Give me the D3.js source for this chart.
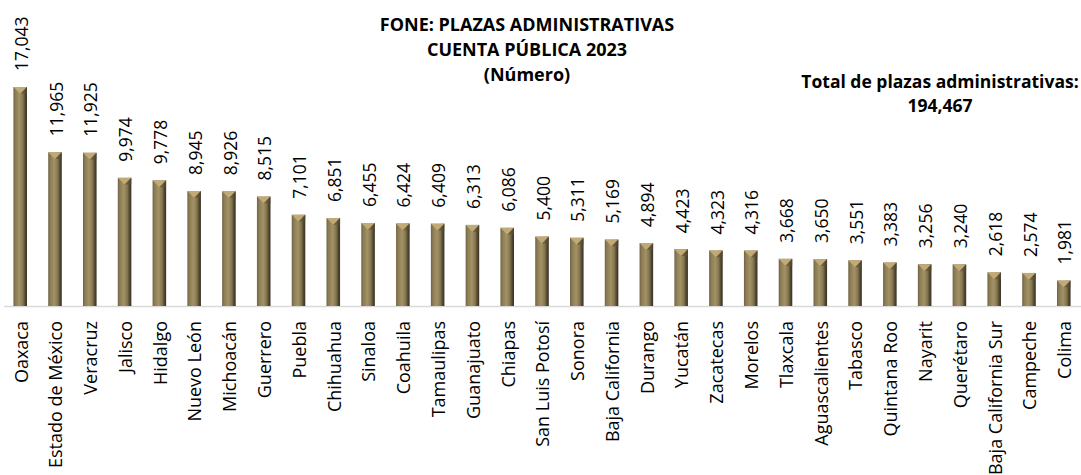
<!DOCTYPE html>
<html>
<head>
<meta charset="utf-8">
<script src="https://cdn.jsdelivr.net/npm/d3@7"></script>
<style>
  body { margin: 0; background: #fff; }
  svg text { font-family: "Open Sans", sans-serif; fill: #000; }
</style>
</head>
<body>
<div id="chart"></div>
<script>
// data
let estados = ['Oaxaca','Estado de México','Veracruz','Jalisco','Hidalgo','Nuevo León','Michoacán',
  'Guerrero','Puebla','Chihuahua','Sinaloa','Coahuila','Tamaulipas','Guanajuato','Chiapas',
  'San Luis Potosí','Sonora','Baja California','Durango','Yucatán','Zacatecas','Morelos','Tlaxcala',
  'Aguascalientes','Tabasco','Quintana Roo','Nayarit','Querétaro','Baja California Sur','Campeche','Colima'];
let plazas = [17043,11965,11925,9974,9778,8945,8926,8515,7101,6851,6455,6424,6409,6313,6086,
  5400,5311,5169,4894,4423,4323,4316,3668,3650,3551,3383,3256,3240,2618,2574,1981];
let titulo = ['FONE: PLAZAS ADMINISTRATIVAS','CUENTA PÚBLICA 2023','(Número)'];
let totalTxt = ['Total de plazas administrativas:','194,467'];

let width = 1081,
    height = 475,
    base = 306,
    fmt = d3.format(',');

let svg = d3.select('#chart').append('svg')
    .attr('width', width)
    .attr('height', height);

let data = estados.map((e, i) => ({name: e, val: plazas[i]}));

let x = d3.scaleBand()
    .domain(estados)
    .range([3, 1081])
    .paddingInner(0.61)
    .paddingOuter(0.3);

let y = d3.scaleLinear()
    .domain([0, 17043])
    .range([base, 87]);

// bar gradient
let defs = svg.append('defs');
let grad = defs.append('linearGradient').attr('id', 'barGrad')
    .attr('x1', '0%').attr('x2', '100%').attr('y1', '0%').attr('y2', '0%');
[['0%','#6f6242'],['15%','#8c7c54'],['45%','#a39266'],['70%','#85764f'],['88%','#4d4430'],['100%','#3a3324']]
  .forEach(s => grad.append('stop').attr('offset', s[0]).attr('stop-color', s[1]));

// axis line
svg.append('line')
    .attr('x1', 4).attr('x2', width)
    .attr('y1', base + 0.5).attr('y2', base + 0.5)
    .style('stroke', '#d9d9d9')
    .style('stroke-width', '1.5px');

let bw = x.bandwidth();
let grp = svg.selectAll('g.bar')
    .data(data)
    .enter().append('g')
    .attr('class', 'bar');

grp.append('rect')
    .attr('x', d => x(d.name))
    .attr('y', d => y(d.val))
    .attr('width', bw)
    .attr('height', d => base - y(d.val))
    .attr('fill', 'url(#barGrad)');

// bevel on top
grp.append('path')
    .attr('d', d => {
      let x0 = x(d.name), t = y(d.val);
      return 'M' + x0 + ',' + t + 'L' + (x0 + bw) + ',' + t + 'L' + (x0 + bw / 2) + ',' + (t + bw / 2) + 'Z';
    })
    .attr('fill', '#c2aa77');
grp.append('path')
    .attr('d', d => {
      let x0 = x(d.name), t = y(d.val);
      return 'M' + (x0 + bw) + ',' + t + 'L' + (x0 + bw) + ',' + (t + bw / 2) + 'L' + (x0 + bw / 2) + ',' + (t + bw / 2) + 'Z';
    })
    .attr('fill', '#5a4f36').attr('opacity', 0.6);

// value labels
grp.append('text')
    .attr('transform', d => 'translate(' + (x(d.name) + bw / 2 + 1.5) + ',' + (y(d.val) - 16) + ') rotate(-90)')
    .attr('dy', '0.35em')
    .style('font-size', '17.5px')
    .text(d => fmt(d.val));

// category labels
grp.append('text')
    .attr('transform', d => 'translate(' + (x(d.name) + bw / 2 + 1) + ',' + (base + 15) + ') rotate(-90)')
    .attr('dy', '0.35em')
    .attr('text-anchor', 'end')
    .style('font-size', '18px')
    .text(d => d.name);

// title
svg.selectAll('text.title')
    .data(titulo)
    .enter().append('text')
    .attr('class', 'title')
    .attr('x', 527)
    .attr('y', (d, i) => 31 + i * 25)
    .attr('text-anchor', 'middle')
    .style('font-size', '18px')
    .style('font-weight', 'bold')
    .text(d => d);

svg.selectAll('text.total')
    .data(totalTxt)
    .enter().append('text')
    .attr('class', 'total')
    .attr('x', 940)
    .attr('y', (d, i) => 88 + i * 24)
    .attr('text-anchor', 'middle')
    .style('font-size', '17.5px')
    .style('font-weight', 'bold')
    .text(d => d);
</script>
</body>
</html>
